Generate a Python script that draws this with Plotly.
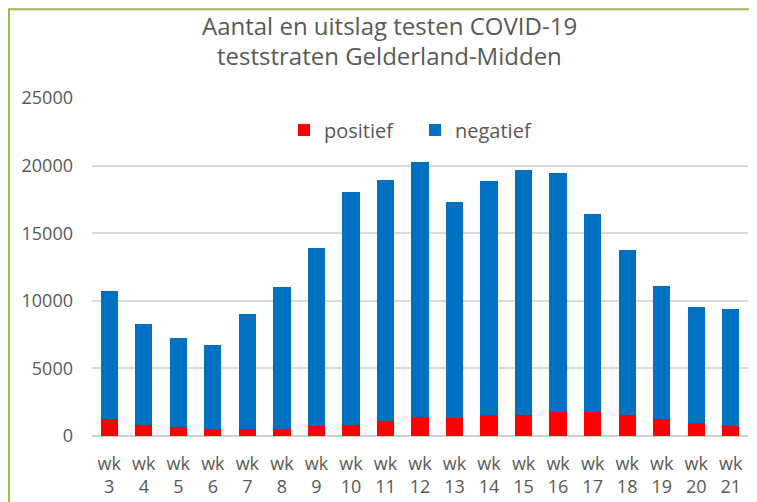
import plotly.graph_objects as go

weeks = [f"wk<br>{w}" for w in range(3, 22)]
positief = [1270, 820, 650, 530, 530, 530, 720, 820, 1140, 1380, 1310, 1580, 1580, 1780, 1780, 1580, 1270, 940, 720]
negatief = [9490, 7440, 6620, 6230, 8460, 10470, 13210, 17250, 17790, 18920, 16020, 17250, 18090, 17670, 14620, 12170, 9830, 8570, 8660]
y_ticks = [0, 5000, 10000, 15000, 20000, 25000]
title_lines = ["Aantal en uitslag testen COVID-19", "teststraten Gelderland-Midden"]

FONT = "Open Sans"
GREY = "#595959"

OFF = 8  # page body margin
W, H = 757 - OFF, 502 - OFF
L = 92 - OFF
T = 98 - OFF
R = W - (748 - OFF)
B = H - (436.5 - OFF)
pw, ph = W - L - R, H - T - B

def px_x(px):
    return (px - OFF - L) / pw

def px_y(py):
    return (H - B - (py - OFF)) / ph

fig = go.Figure()
fig.add_trace(go.Bar(x=weeks, y=positief, name="positief", marker=dict(color="#ff0000", line=dict(width=0))))
fig.add_trace(go.Bar(x=weeks, y=negatief, name="negatief", marker=dict(color="#0070c0", line=dict(width=0))))

fig.update_layout(
    width=W, height=H,
    barmode="stack", bargap=0.5,
    margin=dict(l=L, r=R, t=T, b=B, autoexpand=False),
    paper_bgcolor="white", plot_bgcolor="white",
    font=dict(family=FONT, color=GREY),
    showlegend=True,
    legend=dict(orientation="h", x=px_x(415), y=px_y(130), xanchor="center", yanchor="middle",
                font=dict(size=20, color=GREY), traceorder="normal", itemwidth=30,
                entrywidth=86, bgcolor="rgba(0,0,0,0)"),
    xaxis=dict(tickfont=dict(size=18, color=GREY), showgrid=False, showline=False, ticks="",
               ticklabelstandoff=15),
    yaxis=dict(range=[0, 25000], tickvals=y_ticks, ticktext=[str(v) for v in y_ticks],
               tickfont=dict(size=18, color=GREY), showgrid=True, gridcolor="#d9d9d9", gridwidth=1.5,
               zeroline=True, zerolinecolor="#d0d0d0", zerolinewidth=2, showline=False, ticks="",
               ticklabelstandoff=18),
)

for i, line in enumerate(title_lines):
    fig.add_annotation(text=line, xref="paper", yref="paper", x=px_x(389), y=px_y(25 + 30 * i),
                       xanchor="center", yanchor="middle", showarrow=False,
                       font=dict(family=FONT, size=24, color=GREY))

fig.add_shape(type="rect", xref="paper", yref="paper",
              x0=px_x(OFF + 1), x1=px_x(752), y0=px_y(530), y1=px_y(OFF + 1),
              line=dict(color="#9bbb59", width=2), fillcolor="rgba(0,0,0,0)", layer="above")

fig.write_html("out.html")
